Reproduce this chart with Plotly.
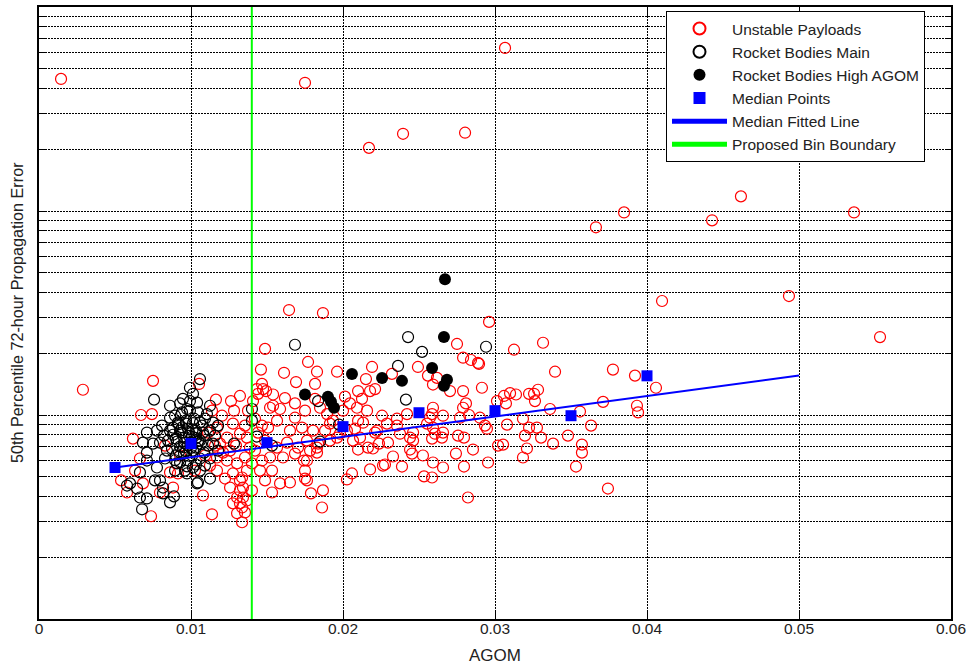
import plotly.graph_objects as go

# ---------------- data ----------------
unstable_x = [0.00145, 0.0175, 0.03066, 0.02171, 0.02395, 0.02803, 0.03664, 0.03849, 0.04428, 0.04618,
              0.05362, 0.04099, 0.04934, 0.05533, 0.01645, 0.01868, 0.02961, 0.00289, 0.01487, 0.03316,
              0.03125, 0.0275, 0.0279, 0.02842, 0.02888, 0.02895, 0.03395, 0.03776, 0.03921, 0.04059,
              0.03934, 0.03941, 0.03711, 0.03559, 0.03362, 0.03632, 0.0348, 0.03572, 0.03572, 0.03533,
              0.03743, 0.03382, 0.03303, 0.0321, 0.03184, 0.03197, 0.03224, 0.03276, 0.03184, 0.03079,
              0.0302, 0.03053, 0.02954, 0.02855, 0.02796, 0.02743, 0.02822, 0.02658, 0.02592, 0.02586,
              0.02757, 0.02796, 0.02651, 0.02605, 0.02592, 0.02658, 0.0277, 0.02829, 0.02901, 0.02934,
              0.02947, 0.0279, 0.02809, 0.02704, 0.0279, 0.02914, 0.03072, 0.03059, 0.03099, 0.03138,
              0.03224, 0.03257, 0.03283, 0.03263, 0.03013, 0.02592, 0.02586, 0.02533, 0.02526, 0.02441,
              0.02388, 0.02329, 0.02276, 0.02178, 0.02059, 0.02026, 0.01862, 0.01868, 0.01789, 0.0175,
              0.0175, 0.01743, 0.02099, 0.02164, 0.02237, 0.02296, 0.02441, 0.02586, 0.02461, 0.02375,
              0.02211, 0.02112, 0.02079, 0.0198, 0.01914, 0.01836, 0.01783, 0.01829, 0.01934, 0.02099,
              0.02257, 0.02355, 0.02658, 0.02158, 0.02092, 0.0146, 0.01612, 0.0177, 0.01829, 0.01691,
              0.01816, 0.01961, 0.02191, 0.02151, 0.02099, 0.02211, 0.02322, 0.02493, 0.02559, 0.02618,
              0.02592, 0.01474, 0.01441, 0.01408, 0.0154, 0.01618, 0.01684, 0.01816, 0.01849, 0.02013,
              0.02046, 0.02125, 0.02178, 0.02, 0.01895, 0.0175, 0.01684, 0.01586, 0.0152, 0.01375,
              0.01566, 0.01507, 0.01651, 0.0173, 0.01803, 0.01763, 0.01829, 0.01704, 0.01632, 0.01566,
              0.0152, 0.01605, 0.01684, 0.01763, 0.01454, 0.01586, 0.01651, 0.01763, 0.02263, 0.02454,
              0.02197, 0.02066, 0.01961, 0.02224, 0.02289, 0.02461, 0.02553, 0.02572, 0.02421, 0.02355,
              0.01914, 0.01882, 0.02026, 0.02132, 0.01368, 0.01388, 0.01355, 0.01336, 0.01322, 0.01342,
              0.01322, 0.0075, 0.01053, 0.01164, 0.00671, 0.00743, 0.00618, 0.0054, 0.00579, 0.00796,
              0.00882, 0.00737, 0.01079, 0.01138, 0.01336, 0.00664, 0.00684, 0.00862, 0.00914, 0.01138,
              0.01171, 0.01276, 0.01237, 0.01322, 0.01191, 0.01257, 0.01171, 0.01237, 0.01303, 0.01171,
              0.01276, 0.01368, 0.01322, 0.01257, 0.01342, 0.01303, 0.01368, 0.01276, 0.01336, 0.01303,
              0.01355, 0.01434, 0.0154, 0.01467, 0.01494, 0.01421, 0.01467, 0.01441, 0.01487, 0.01421,
              0.01467, 0.01401, 0.01533, 0.01487, 0.01401, 0.01533, 0.01204, 0.01112, 0.01158, 0.01092,
              0.01211, 0.01125, 0.01224, 0.01296, 0.01355, 0.01283, 0.01322, 0.01263, 0.00632, 0.00928,
              0.01026, 0.00829]
unstable_y = [444, 425, 630, 204, 239, 242, 83.2, 98.4, 90.0, 118,
              98.4, 36.2, 38.3, 24.1, 32.7, 31.6, 28.6, 13.3, 21.1, 22.6,
              20.9, 22.3, 19.1, 18.6, 18.0, 17.8, 16.3, 16.7, 15.6, 13.6,
              11.1, 10.3, 11.6, 10.4, 10.7, 8.87, 7.92, 7.16, 6.54, 5.59,
              4.36, 7.24, 7.75, 6.85, 6.19, 7.92, 8.67, 8.67, 9.59, 8.97,
              7.08, 7.16, 5.85, 6.77, 5.59, 6.47, 3.94, 5.53, 5.85, 4.94,
              7.92, 7.75, 7.75, 8.10, 8.67, 8.20, 9.70, 10.0, 9.70, 8.87,
              8.57, 10.85, 11.4, 13.1, 13.1, 13.6, 11.4, 12.4, 12.8, 12.6,
              12.7, 12.7, 13.3, 11.7, 11.7, 10.85, 10.1, 5.00, 6.33, 6.77,
              5.59, 6.26, 5.72, 5.41, 5.17, 4.83, 3.52, 4.27, 4.13, 4.88,
              5.34, 5.98, 6.77, 6.92, 7.24, 7.32, 7.75, 7.66, 8.20, 8.10,
              8.20, 7.75, 8.57, 8.10, 7.49, 7.24, 6.69, 6.54, 9.38, 9.38,
              9.92, 9.59, 9.92, 10.5, 10.85, 16.7, 16.1, 18.2, 16.3, 14.5,
              14.2, 16.3, 17.2, 15.0, 13.1, 13.4, 15.9, 17.2, 15.6, 15.2,
              14.1, 13.4, 12.7, 11.7, 12.6, 12.1, 11.4, 12.0, 10.85, 12.3,
              11.4, 12.0, 13.1, 10.5, 10.1, 10.5, 9.70, 10.7, 10.85, 10.5,
              9.38, 8.67, 8.38, 8.67, 8.38, 7.49, 6.92, 6.92, 7.32, 6.92,
              6.19, 6.19, 6.47, 5.98, 5.34, 4.62, 4.67, 4.78, 5.65, 6.47,
              6.85, 7.49, 7.75, 8.38, 9.07, 7.49, 9.07, 9.70, 10.1, 8.87,
              9.07, 8.38, 8.38, 9.17, 7.75, 6.92, 6.19, 4.94, 4.27, 3.94,
              3.69, 14.7, 14.2, 11.9, 10.0, 10.1, 7.66, 4.78, 4.17, 4.17,
              4.41, 3.19, 4.03, 3.26, 2.98, 6.12, 4.62, 5.23, 5.17, 10.5,
              8.67, 9.07, 7.75, 8.10, 7.24, 6.69, 6.19, 5.98, 5.79, 5.34,
              5.17, 5.34, 4.78, 4.41, 4.41, 3.94, 3.81, 3.69, 3.52, 3.30,
              3.33, 13.4, 11.1, 14.2, 13.1, 9.59, 8.87, 8.20, 7.49, 6.69,
              5.98, 5.79, 5.34, 4.78, 4.27, 4.17, 9.92, 8.20, 7.08, 6.33,
              6.54, 5.65, 4.88, 7.08, 8.87, 10.5, 12.4, 11.7, 5.34, 6.33,
              5.34, 7.08]

rb_main_x = [0.01684, 0.02428, 0.0252, 0.02362, 0.02941, 0.02414, 0.01836, 0.01974, 0.01401, 0.01401,
             0.01434, 0.01533, 0.01849, 0.01283, 0.00757, 0.01059, 0.00993, 0.01013, 0.00928, 0.00974,
             0.01105, 0.00862, 0.01145, 0.0071, 0.00776, 0.00882, 0.00684, 0.0075, 0.00796, 0.01145,
             0.0071, 0.00842, 0.0071, 0.00776, 0.00664, 0.01125, 0.0104, 0.00599, 0.00796, 0.00816,
             0.00645, 0.00579, 0.00664, 0.00816, 0.00862, 0.0071, 0.00678, 0.00974, 0.01013, 0.00908,
             0.00888, 0.00763, 0.01046,
             0.00895, 0.00941, 0.00993, 0.01046, 0.01092, 0.00914, 0.00967, 0.0102, 0.01072, 0.01125,
             0.00862, 0.00928, 0.0098, 0.01033, 0.01086, 0.00849, 0.00901, 0.00954, 0.01007, 0.01059,
             0.01112, 0.00875, 0.00928, 0.0098, 0.01033, 0.01086, 0.00901, 0.00954, 0.01007, 0.01059,
             0.00928, 0.0098, 0.01033, 0.0096, 0.00895, 0.01092, 0.00829, 0.01158, 0.01178, 0.00993,
             0.00947, 0.0104, 0.00862, 0.01125, 0.00809, 0.00822, 0.01178, 0.01059, 0.01125,
             0.00921, 0.00967, 0.01013, 0.01059, 0.00941, 0.00987, 0.01033, 0.00908, 0.00954, 0.01000,
             0.01046, 0.00921, 0.00967, 0.01013, 0.00941, 0.00987, 0.01033, 0.00954, 0.01000, 0.00974,
             0.00882, 0.01079, 0.00895, 0.01066, 0.00934]
rb_main_y = [22.1, 24.1, 20.4, 17.4, 21.6, 11.9, 11.7, 8.97, 10.7, 9.38,
             7.84, 7.08, 7.41, 7.24, 11.9, 15.0, 13.6, 12.7, 11.4, 10.7,
             10.1, 9.70, 9.17, 8.20, 8.38, 8.67, 7.32, 7.24, 7.32, 7.24,
             6.54, 6.69, 5.98, 5.53, 5.23, 4.88, 4.62, 4.62, 4.78, 4.41,
             4.36, 4.51, 3.94, 4.13, 3.73, 3.90, 3.45, 5.17, 5.53, 5.79,
             3.99, 4.78, 4.67,
             9.92, 10.3, 10.5, 10.3, 9.59, 9.17, 9.38, 9.59, 8.87, 8.38,
             8.38, 8.38, 8.57, 8.38, 7.92, 7.49, 7.66, 7.75, 7.84, 7.49,
             7.08, 6.85, 7.00, 7.08, 6.92, 6.54, 6.33, 6.47, 6.33, 6.12,
             5.85, 5.98, 5.72, 5.34, 5.34, 5.65, 6.12, 7.92, 6.69, 11.7,
             12.0, 11.5, 11.1, 11.1, 8.87, 7.92, 8.87, 5.34, 6.12,
             9.02, 9.07, 9.12, 9.20, 8.20, 8.25, 8.15, 7.40, 7.30, 7.35,
             7.45, 6.60, 6.65, 6.70, 8.70, 7.90, 7.70, 6.95, 6.90, 5.60,
             8.00, 8.20, 6.00, 7.20, 10.0]

rb_high_x = [0.02671, 0.02664, 0.02586, 0.02684, 0.02664, 0.0175, 0.01901, 0.01921, 0.01941, 0.02059,
             0.02257, 0.02388]
rb_high_y = [46.3, 24.1, 17.0, 14.9, 13.9, 12.6, 12.3, 11.6, 10.85, 15.9,
             15.2, 14.7]

median_x = [0.005, 0.010, 0.015, 0.020, 0.025, 0.030, 0.035, 0.040]
median_y = [5.53, 7.24, 7.32, 8.77, 10.26, 10.5, 9.92, 15.56]

fit_x = [0.005, 0.050]
fit_y = [5.53, 15.6]

boundary_x = [0.014, 0.014]
boundary_y = [1, 1000]

x_tick_vals = [0, 0.01, 0.02, 0.03, 0.04, 0.05, 0.06]
x_tick_text = ["0", "0.01", "0.02", "0.03", "0.04", "0.05", "0.06"]
y_grid_vals = [1, 2, 3, 4, 5, 6, 7, 8, 9,
               10, 20, 30, 40, 50, 60, 70, 80, 90,
               100, 200, 300, 400, 500, 600, 700, 800, 900, 1000]

# ---------------- figure ----------------
FONT = "Liberation Sans, Arial, Helvetica, sans-serif"
TXT = "#222222"
fig = go.Figure()

fig.add_trace(go.Scatter(x=unstable_x, y=unstable_y, mode="markers", name="Unstable Payloads",
                         marker=dict(symbol="circle-open", size=11, color="#ff0000",
                                     line=dict(width=1.2, color="#ff0000"))))
fig.add_trace(go.Scatter(x=rb_main_x, y=rb_main_y, mode="markers", name="Rocket Bodies Main",
                         marker=dict(symbol="circle-open", size=11, color="#000000",
                                     line=dict(width=1.2, color="#000000"))))
fig.add_trace(go.Scatter(x=rb_high_x, y=rb_high_y, mode="markers", name="Rocket Bodies High AGOM",
                         marker=dict(symbol="circle", size=12, color="#000000")))
fig.add_trace(go.Scatter(x=median_x, y=median_y, mode="markers", name="Median Points",
                         marker=dict(symbol="square", size=11, color="#0000ff")))
fig.add_trace(go.Scatter(x=fit_x, y=fit_y, mode="lines", name="Median Fitted Line",
                         line=dict(color="#0000ff", width=2)))
fig.add_trace(go.Scatter(x=boundary_x, y=boundary_y, mode="lines", name="Proposed Bin Boundary",
                         line=dict(color="#00ff00", width=2)))

fig.update_layout(
    width=972, height=670, autosize=False,
    margin=dict(l=39, r=21, t=5, b=51),
    paper_bgcolor="white", plot_bgcolor="white",
    font=dict(family=FONT, size=15, color=TXT),
    showlegend=True,
    legend=dict(x=0.6875, y=0.9935, xanchor="left", yanchor="top",
                bgcolor="white", bordercolor="black", borderwidth=1,
                font=dict(family=FONT, size=15.5, color=TXT),
                itemwidth=55, itemsizing="constant", traceorder="normal"),
    xaxis=dict(range=[0, 0.06], tickvals=x_tick_vals, ticktext=x_tick_text,
               showgrid=True, gridcolor="#000000", griddash="2px,1px", gridwidth=1,
               zeroline=False, showline=True, linecolor="black", linewidth=1.5,
               mirror="ticks", ticks="inside", ticklen=9, tickcolor="black",
               ticklabelstandoff=-5,
               tickfont=dict(family=FONT, size=15.5, color=TXT)),
    yaxis=dict(type="log", range=[0, 3], tickvals=y_grid_vals, showticklabels=False,
               showgrid=True, gridcolor="#000000", griddash="2px,1px", gridwidth=1,
               zeroline=False, showline=True, linecolor="black", linewidth=1.5,
               mirror="ticks", ticks="inside", ticklen=6, tickcolor="black"),
    annotations=[
        dict(text="AGOM", xref="paper", yref="paper", x=0.5, y=-0.0603,
             xanchor="center", yanchor="middle", showarrow=False,
             font=dict(family=FONT, size=17, color=TXT)),
        dict(text="50th Percentile 72-hour Propagation Error", xref="paper", yref="paper",
             x=-0.0241, y=0.5, xanchor="center", yanchor="middle", textangle=-90,
             showarrow=False, font=dict(family=FONT, size=16.2, color=TXT)),
    ],
)

fig.write_html("out.html", config={"displayModeBar": False},
               post_script="document.body.style.margin='0';")
